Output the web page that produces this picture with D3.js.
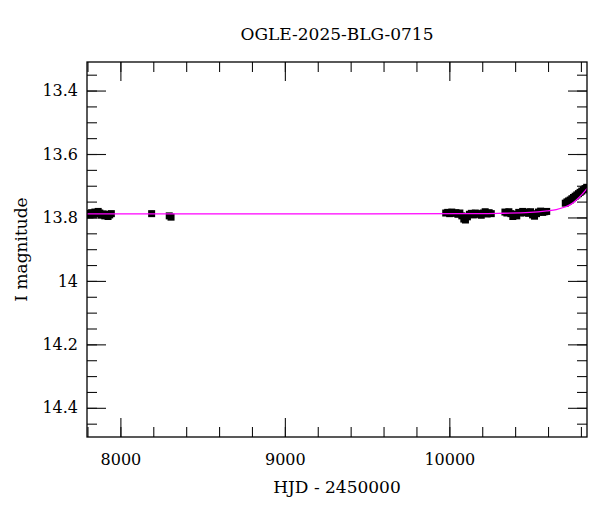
<!DOCTYPE html>
<html>
<head>
<meta charset="utf-8">
<script src="https://cdn.jsdelivr.net/npm/d3@7"></script>
<style>
  body { margin: 0; background: #fff; }
  svg { font-family: "DejaVu Serif", serif; }
</style>
</head>
<body>
<div id="chart"></div>
<script>
// photometry: HJD - 2450000, I magnitude
const obsHjd = [
  7805, 7815, 7825, 7835, 7845, 7855, 7865, 7875, 7885, 7895, 7905, 7915, 7925, 7935, 7945,
  8190, 8297, 8308,
  9978, 9990, 10002, 10015, 10028, 10040, 10052, 10064, 10076, 10088, 10098, 10110,
  10122, 10134, 10146, 10158, 10170, 10182, 10194, 10206, 10218, 10230, 10242, 10255,
  10338, 10350, 10362, 10374, 10386, 10398, 10410, 10422, 10434, 10446, 10458, 10470,
  10482, 10494, 10506, 10518, 10530, 10542, 10555, 10568, 10580, 10592,
  10705, 10715, 10725, 10735, 10745, 10755, 10765, 10775, 10785, 10795, 10805, 10815, 10825, 10835
];
const obsMag = [
  13.787, 13.792, 13.785, 13.790, 13.783, 13.788, 13.781, 13.786, 13.792, 13.789, 13.795, 13.790, 13.797, 13.792, 13.788,
  13.788, 13.795, 13.799,
  13.786, 13.784, 13.788, 13.783, 13.787, 13.785, 13.790, 13.786, 13.795, 13.805, 13.808, 13.798,
  13.790, 13.787, 13.792, 13.786, 13.790, 13.788, 13.793, 13.786, 13.782, 13.789, 13.785, 13.788,
  13.783, 13.786, 13.782, 13.788, 13.797, 13.790, 13.795, 13.784, 13.786, 13.781, 13.785, 13.783,
  13.787, 13.782, 13.792, 13.796, 13.788, 13.783, 13.780, 13.784, 13.782, 13.781,
  13.755, 13.751, 13.748, 13.745, 13.741, 13.737, 13.733, 13.729, 13.725, 13.721, 13.717, 13.713, 13.709, 13.705
];
const obsErr = 0.009;

// model curve
const modelHjd = [7790, 9500, 10100, 10300, 10490, 10593, 10650, 10703, 10740, 10774, 10805, 10835, 10850];
const modelMag = [13.789, 13.789, 13.788, 13.787, 13.784, 13.779, 13.775, 13.767, 13.758, 13.744, 13.728, 13.710, 13.700];

const xTicks = [8000, 9000, 10000];
const yTicks = [13.4, 13.6, 13.8, 14, 14.2, 14.4];
const title = "OGLE-2025-BLG-0715";

let margin = {top: 62, right: 13, bottom: 75, left: 87},
  width = 600 - margin.left - margin.right,
  height = 512 - margin.top - margin.bottom;

let svg = d3.select("#chart")
  .append("svg")
  .attr("width", 600)
  .attr("height", 512)
    .append("g")
    .attr("transform", "translate(" + margin.left + "," + margin.top + ")");

let x = d3.scaleLinear().domain([7797, 10837]).range([0, width]);
let y = d3.scaleLinear().domain([13.31, 14.492]).range([0, height]);

const minorX = d3.range(7800, 10840, 200);
const minorY = d3.range(13.35, 14.49, 0.05).map(v => +v.toFixed(2));

// ticks on all four sides, pointing inward
function styleAxis(g) {
  g.select(".domain").remove();
  g.selectAll("line").attr("stroke", "#111").attr("stroke-width", 1.1);
  g.selectAll("text").attr("font-size", 16).attr("fill", "#000").attr("font-family", "DejaVu Serif");
}

svg.append("g").attr("transform", "translate(0," + height + ")")
  .call(d3.axisBottom(x).tickValues(minorX).tickSize(-10).tickFormat("")).call(styleAxis);
svg.append("g").attr("transform", "translate(0," + height + ")")
  .call(d3.axisBottom(x).tickValues(xTicks).tickSize(-19).tickPadding(17).tickFormat(d3.format("d"))).call(styleAxis);
svg.append("g")
  .call(d3.axisTop(x).tickValues(minorX).tickSize(-10).tickFormat("")).call(styleAxis);
svg.append("g")
  .call(d3.axisTop(x).tickValues(xTicks).tickSize(-19).tickFormat("")).call(styleAxis);

svg.append("g")
  .call(d3.axisLeft(y).tickValues(minorY).tickSize(-10).tickFormat("")).call(styleAxis);
svg.append("g")
  .call(d3.axisLeft(y).tickValues(yTicks).tickSize(-19).tickPadding(9).tickFormat(d => String(+d.toFixed(1)))).call(styleAxis);
svg.append("g").attr("transform", "translate(" + width + ",0)")
  .call(d3.axisRight(y).tickValues(minorY).tickSize(-10).tickFormat("")).call(styleAxis);
svg.append("g").attr("transform", "translate(" + width + ",0)")
  .call(d3.axisRight(y).tickValues(yTicks).tickSize(-19).tickFormat("")).call(styleAxis);

svg.append("clipPath").attr("id", "plot-clip")
  .append("rect").attr("width", width).attr("height", height);

let plot = svg.append("g").attr("clip-path", "url(#plot-clip)");

// data points with error bars
let pts = obsHjd.map((h, i) => ({h: h, m: obsMag[i]}));
plot.append("g").selectAll("line")
  .data(pts).enter().append("line")
    .attr("x1", d => x(d.h)).attr("x2", d => x(d.h))
    .attr("y1", d => y(d.m - obsErr)).attr("y2", d => y(d.m + obsErr))
    .attr("stroke", "#000").attr("stroke-width", 3);
plot.append("g").selectAll("rect")
  .data(pts).enter().append("rect")
    .attr("x", d => x(d.h) - 3.5).attr("y", d => y(d.m) - 3.5)
    .attr("width", 7).attr("height", 7)
    .attr("fill", "#000");

// model
let model = modelHjd.map((h, i) => [h, modelMag[i]]);
plot.append("path")
  .datum(model)
  .attr("fill", "none")
  .attr("stroke", "#ff00ff")
  .attr("stroke-width", 1.3)
  .attr("d", d3.line().x(d => x(d[0])).y(d => y(d[1])).curve(d3.curveMonotoneX));

// frame
svg.append("rect")
  .attr("width", width).attr("height", height)
  .attr("fill", "none").attr("stroke", "#000").attr("stroke-width", 1.3);

// labels
svg.append("text")
  .attr("x", width / 2).attr("y", -22)
  .attr("text-anchor", "middle").attr("font-size", 17)
  .text(title);

svg.append("text")
  .attr("x", width / 2).attr("y", height + 56)
  .attr("text-anchor", "middle").attr("font-size", 17)
  .text("HJD - 2450000");

svg.append("text")
  .attr("transform", "translate(" + (27 - margin.left) + "," + (height / 2) + ") rotate(-90)")
  .attr("text-anchor", "middle").attr("font-size", 17)
  .text("I magnitude");
</script>
</body>
</html>
